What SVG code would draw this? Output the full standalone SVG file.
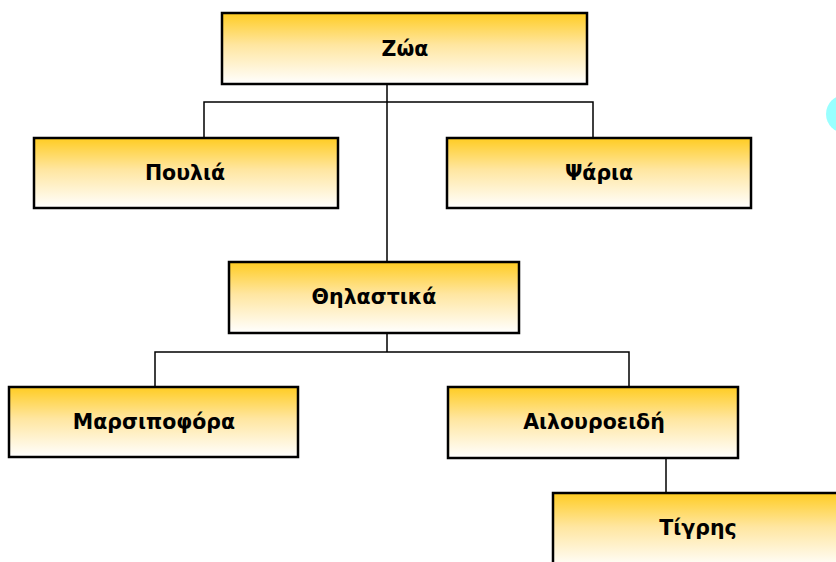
<svg xmlns="http://www.w3.org/2000/svg" width="836" height="562" viewBox="0 0 836 562">
<defs>
<linearGradient id="g" x1="0" y1="0" x2="0" y2="1">
<stop offset="0" stop-color="#FFCC22"/>
<stop offset="0.45" stop-color="#FFE6A0"/>
<stop offset="1" stop-color="#FFFFFF"/>
</linearGradient>
<style>
.box{fill:url(#g);stroke:#000;stroke-width:2.5}
.lbl{font-family:"DejaVu Sans","Liberation Sans",sans-serif;font-weight:bold;font-size:20.5px;fill:#000;text-anchor:middle}
.c{fill:none;stroke:#000;stroke-width:1.5}
</style>
</defs>
<rect width="836" height="562" fill="#fff"/>
<circle cx="845" cy="114" r="19" fill="#99FFFF"/>
<g id="connectors">
<path class="c" d="M387 84V262M204 138V102H593V138"/>
<path class="c" d="M387 333V352M155 387V352H629V387"/>
<path class="c" d="M666 458V493"/>
</g>
<g id="zoa"><rect class="box" x="222" y="13" width="365" height="71"/><text class="lbl" x="405" y="56">Ζώα</text></g>
<g id="poulia"><rect class="box" x="34" y="138" width="304" height="70"/><text class="lbl" x="185" y="180">Πουλιά</text></g>
<g id="psaria"><rect class="box" x="447" y="138" width="304" height="70"/><text class="lbl" x="599" y="180">Ψάρια</text></g>
<g id="thilastika"><rect class="box" x="229" y="262" width="290" height="71"/><text class="lbl" x="374" y="304">Θηλαστικά</text></g>
<g id="marsipofora"><rect class="box" x="9" y="387" width="289" height="70"/><text class="lbl" x="154" y="429">Μαρσιποφόρα</text></g>
<g id="ailouroeidi"><rect class="box" x="448" y="387" width="290" height="71"/><text class="lbl" x="594" y="429">Αιλουροειδή</text></g>
<g id="tigris"><rect class="box" x="553" y="493" width="292" height="75"/><text class="lbl" x="698" y="535">Τίγρης</text></g>
</svg>
